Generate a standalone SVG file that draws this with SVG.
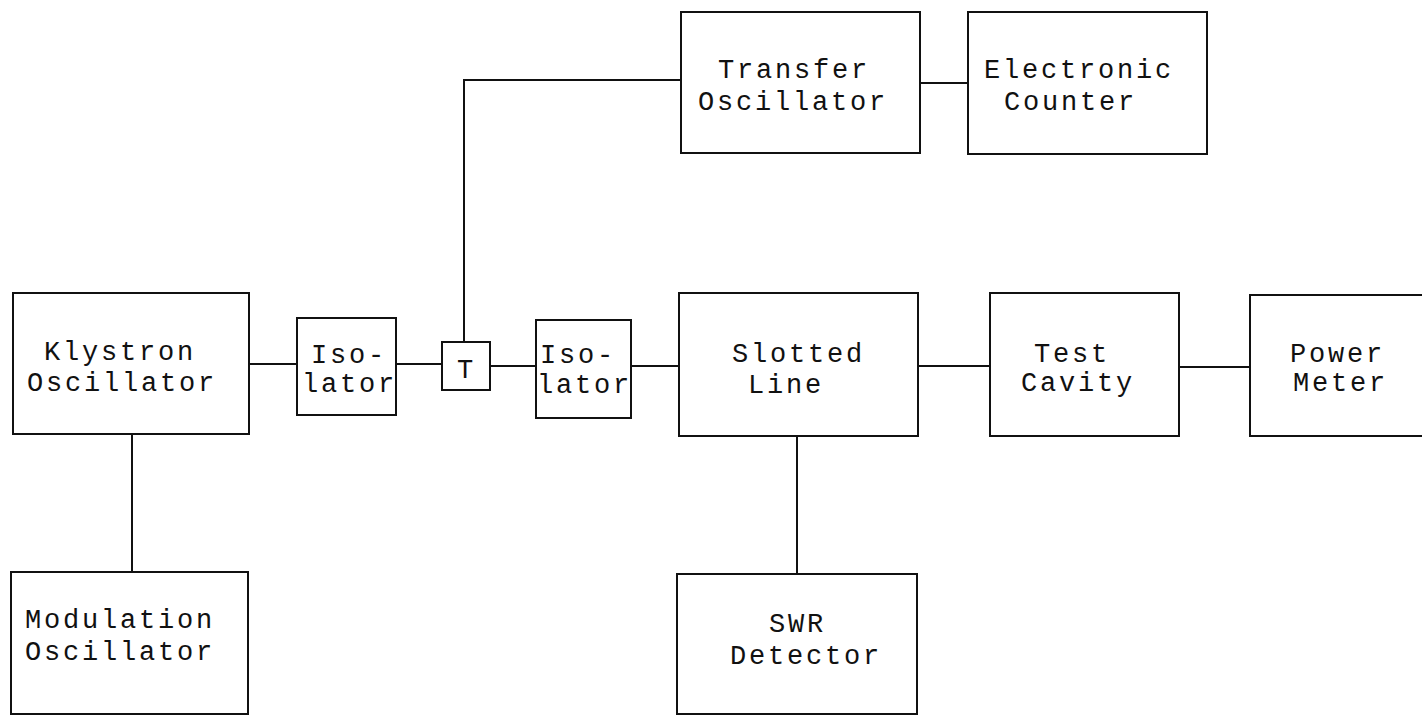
<svg xmlns="http://www.w3.org/2000/svg" width="1422" height="715" viewBox="0 0 1422 715">
<style>
.box{fill:none;stroke:#111;stroke-width:2}
.wire{fill:none;stroke:#111;stroke-width:2}
text{font-family:"Liberation Mono","DejaVu Sans Mono",monospace;font-size:27px;letter-spacing:2.8px;fill:#111}
</style>
<rect width="1422" height="715" fill="#fff"/>
<g id="connectors">
<line class="wire" x1="249" y1="364" x2="297" y2="364"/>
<line class="wire" x1="396" y1="364" x2="442" y2="364"/>
<line class="wire" x1="490" y1="366" x2="536" y2="366"/>
<line class="wire" x1="631" y1="366" x2="679" y2="366"/>
<line class="wire" x1="918" y1="366" x2="990" y2="366"/>
<line class="wire" x1="1179" y1="367" x2="1250" y2="367"/>
<polyline class="wire" points="464,342 464,80 681,80"/>
<line class="wire" x1="920" y1="83" x2="968" y2="83"/>
<line class="wire" x1="132" y1="434" x2="132" y2="572"/>
<line class="wire" x1="797" y1="436" x2="797" y2="574"/>
</g>
<g id="klystron"><rect class="box" x="13" y="293" width="236" height="141"/>
<text x="44" y="360">Klystron</text><text x="27" y="391">Oscillator</text></g>
<g id="isolator1"><rect class="box" x="297" y="318" width="99" height="97"/>
<text x="311" y="363">Iso-</text><text x="302" y="392">lator</text></g>
<g id="tee"><rect class="box" x="442" y="342" width="48" height="48"/>
<text x="457" y="378">T</text></g>
<g id="isolator2"><rect class="box" x="536" y="320" width="95" height="98"/>
<text x="540" y="363">Iso-</text><text x="537" y="393">lator</text></g>
<g id="slotted"><rect class="box" x="679" y="293" width="239" height="143"/>
<text x="732" y="362">Slotted</text><text x="748" y="393">Line</text></g>
<g id="cavity"><rect class="box" x="990" y="293" width="189" height="143"/>
<text x="1034" y="362">Test</text><text x="1021" y="391">Cavity</text></g>
<g id="power"><rect class="box" x="1250" y="295" width="180" height="141"/>
<text x="1290" y="362">Power</text><text x="1293" y="391">Meter</text></g>
<g id="transfer"><rect class="box" x="681" y="12" width="239" height="141"/>
<text x="718" y="78">Transfer</text><text x="698" y="110">Oscillator</text></g>
<g id="counter"><rect class="box" x="968" y="12" width="239" height="142"/>
<text x="984" y="78">Electronic</text><text x="1004" y="110">Counter</text></g>
<g id="modulation"><rect class="box" x="11" y="572" width="237" height="142"/>
<text x="25" y="628">Modulation</text><text x="25" y="660">Oscillator</text></g>
<g id="swr"><rect class="box" x="677" y="574" width="240" height="140"/>
<text x="769" y="632">SWR</text><text x="730" y="664">Detector</text></g>
</svg>
